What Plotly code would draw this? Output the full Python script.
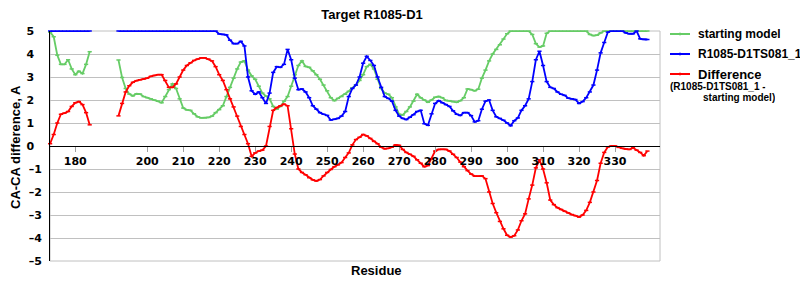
import plotly.graph_objects as go

N = None
residues = list(range(173, 340))

starting_model = [
    4.95, 4.75, 3.95, 3.55, 3.55, 3.75, 3.35, 3.1, 3.25, 3.15, 3.55, 4.1,
    N, N, N, N, N, N, N,
    3.74, 2.98, 2.5, 2.26, 2.18, 2.27, 2.26, 2.15,
    2.1, 2.05, 2.0, 1.95, 1.88, 2.15, 2.45, 2.7, 2.5, 2.05,
    1.65, 1.57, 1.55, 1.4, 1.27, 1.22, 1.22, 1.24, 1.3, 1.45,
    1.58, 1.75, 2.15, 2.55, 2.95, 3.35, 3.65, 3.7, 3.3, 3.05,
    2.9, 2.6, 2.3, 2.17, 2.05, 1.72, 1.6, 1.72, 1.95, 2.15,
    2.6, 3.1, 3.5, 3.7, 3.46, 3.42, 3.27, 3.1, 2.9, 2.65,
    2.4, 2.1, 1.97, 2.07, 2.15, 2.25, 2.38, 2.53, 2.65, 2.85,
    3.1, 3.45, 3.55, 3.35, 2.9, 2.5, 2.3, 2.25, 2.1, 1.7,
    1.38, 1.35, 1.5, 1.7, 1.95, 2.25, 2.1, 2.0, 1.9, 2.0,
    2.12, 2.15, 2.1, 1.98, 1.97, 1.93, 1.9, 1.97, 2.1, 2.48,
    2.45, 2.4, 2.47, 2.95, 3.3, 3.7, 4.0, 4.2, 4.4, 4.65,
    4.88, 5.0, 5.0, 5.0, 5.0, 5.0, 5.0, 4.85, 4.45, 4.3,
    4.35, 4.9, 5.0, 5.0, 5.0, 5.0, 5.0, 5.0, 5.0, 5.0,
    5.0, 5.0, 5.0, 4.85, 4.8, 4.82, 4.92, 5.0, 5.0, 5.0,
    5.0, 5.0, 5.0, 5.0, 5.0, 5.0, 5.0, 5.0, 5.0, 5.0,
]

model_ts081 = [
    5.0, 5.0, 5.0, 5.0, 5.0, 5.0, 5.0, 5.0, 5.0, 5.0, 5.0, 5.0,
    N, N, N, N, N, N, N,
    5.0, 5.0, 5.0, 5.0, 5.0, 5.0, 5.0, 5.0,
    5.0, 5.0, 5.0, 5.0, 5.0, 5.0, 5.0, 5.0, 5.0, 5.0,
    5.0, 5.0, 5.0, 5.0, 5.0, 5.0, 5.0, 5.0, 5.0, 5.0,
    4.87, 4.85, 4.83, 4.6, 4.45, 4.45, 4.55, 4.35, 3.0, 2.4,
    2.25, 2.35, 2.1, 1.85, 2.3, 3.2, 3.45, 3.42, 3.55, 4.2,
    3.75, 2.95, 2.45, 2.48, 2.35, 2.1, 1.75, 1.6, 1.45, 1.38,
    1.33, 1.13, 1.16, 1.2, 1.3, 1.5, 2.15, 2.5, 2.65, 3.0,
    3.6, 3.9, 3.72, 3.5, 3.0, 2.55, 2.15, 2.07, 1.95, 1.55,
    1.3, 1.2, 1.15, 1.25, 1.36, 1.5, 1.55, 0.97, 0.9, 1.4,
    1.85, 1.97, 1.88, 1.8, 1.72, 1.53, 1.38, 1.33, 1.45, 1.45,
    1.32, 1.05, 1.1, 1.6, 1.95, 2.0, 1.55, 1.27, 1.2, 1.12,
    1.0, 0.88, 1.1, 1.22, 1.55, 1.75, 2.05, 2.8, 3.75, 4.12,
    3.5, 2.8, 2.55, 2.5, 2.35, 2.25, 2.2, 2.08, 2.05, 2.02,
    1.85, 1.93, 2.1, 2.35, 2.65, 3.3, 4.05, 4.5, 4.95, 5.0,
    5.0, 5.0, 5.0, 4.92, 4.88, 4.88, 5.0, 4.66, 4.63, 4.63,
]

difference = [
    0.1, 0.5, 1.0, 1.38, 1.43, 1.5, 1.72, 1.88, 1.93, 1.8, 1.45, 0.92,
    N, N, N, N, N, N, N,
    1.31, 1.85, 2.35, 2.62, 2.77, 2.84, 2.88, 2.91,
    2.95, 3.03, 3.07, 3.1, 3.1, 2.85, 2.55, 2.55, 2.7, 3.0,
    3.3, 3.5, 3.62, 3.72, 3.78, 3.83, 3.83, 3.78, 3.7, 3.45,
    3.1, 2.85, 2.45, 2.05, 1.7, 1.3, 0.85, 0.5, 0.1, -0.45,
    -0.3, -0.22, -0.18, 0.0, 0.85, 1.55, 1.67, 1.75, 1.82, 1.75,
    0.75, -0.35, -1.0, -1.15, -1.25, -1.38, -1.47, -1.52, -1.46, -1.3,
    -1.15, -1.02, -0.9, -0.82, -0.72, -0.5, -0.3, 0.05, 0.28, 0.38,
    0.5, 0.44, 0.33, 0.2, 0.1, -0.05, -0.12, -0.1, -0.05, 0.05,
    0.03, -0.15, -0.28, -0.36, -0.45, -0.6, -0.75, -0.9, -0.85, -0.55,
    -0.22, -0.15, -0.14, -0.15, -0.22, -0.36, -0.5, -0.7, -0.9, -1.07,
    -1.22, -1.31, -1.31, -1.3, -1.42, -2.0, -2.5, -2.9, -3.28, -3.6,
    -3.88, -3.96, -3.9, -3.65, -3.25, -2.95, -2.3, -1.7, -0.95, -0.6,
    -1.0, -1.6, -2.35, -2.55, -2.68, -2.76, -2.84, -2.91, -2.98, -3.03,
    -3.09, -3.0, -2.8, -2.45, -2.0, -1.5, -0.75, -0.28, -0.04, 0.0,
    0.0, -0.06, -0.1, -0.13, -0.15, -0.08, -0.18, -0.28, -0.42, -0.22,
]

x_tick_vals = [180, 200, 210, 220, 230, 240, 250, 260, 270, 280, 290, 300, 310, 320, 330]
y_tick_vals = [-5, -4, -3, -2, -1, 0, 1, 2, 3, 4, 5]
y_tick_text = [("\u2013" + str(-v)) if v < 0 else (str(v) + "\u2007") for v in y_tick_vals]

GREEN = "#66cc66"
BLUE = "#0000ff"
RED = "#ff0000"

series = [
    ("starting model", starting_model, GREEN),
    ("R1085-D1TS081_1", model_ts081, BLUE),
    ("Difference", difference, RED),
]

fig = go.Figure()
for name, vals, col in series:
    fig.add_trace(go.Scatter(
        x=residues, y=vals, name=name, mode="lines+markers",
        line=dict(color=col, width=1.8),
        marker=dict(symbol="line-ew", size=3, line=dict(color=col, width=1.5)),
        connectgaps=False, cliponaxis=False, showlegend=False,
    ))

W, H = 800, 300
ML, MR, MT, MB = 50, 140, 31, 39
PW, PH = W - ML - MR, H - MT - MB


def px_x(x):
    return (x - ML) / PW


def px_y(y):
    return (H - MB - y) / PH


shapes = [dict(type="rect", xref="paper", yref="paper", x0=0, x1=1, y0=0, y1=1,
               line=dict(color="#c0c0c0", width=1), layer="below")]
annotations = []

# legend (drawn by hand so the two-line note sits as in the original)
leg = [(34, GREEN, "starting model", 12, 16), (54, BLUE, "R1085-D1TS081_1", 12, 16), (74, RED, "Difference", 13, 13)]
for ypx, col, txt, fs, hh in leg:
    shapes.append(dict(type="line", xref="paper", yref="paper", x0=px_x(670), x1=px_x(690),
                       y0=px_y(ypx), y1=px_y(ypx), line=dict(color=col, width=2)))
    shapes.append(dict(type="line", xref="paper", yref="paper", x0=px_x(680), x1=px_x(680),
                       y0=px_y(ypx - 1.5), y1=px_y(ypx + 1.5), line=dict(color=col, width=1)))
    annotations.append(dict(xref="paper", yref="paper", x=px_x(697), y=px_y(ypx), text="<b>" + txt + "</b>",
                            showarrow=False, xanchor="left", yanchor="middle", height=hh, borderpad=0,
                            font=dict(family="Liberation Sans", size=fs, color="black")))
annotations.append(dict(xref="paper", yref="paper", x=px_x(669), y=px_y(86.5), text="<b>(R1085-D1TS081_1 -</b>",
                        showarrow=False, xanchor="left", yanchor="middle", height=11, borderpad=0,
                        font=dict(family="Liberation Sans", size=10, color="black")))
annotations.append(dict(xref="paper", yref="paper", x=px_x(702), y=px_y(97.5), text="<b>starting model)</b>",
                        showarrow=False, xanchor="left", yanchor="middle", height=11, borderpad=0,
                        font=dict(family="Liberation Sans", size=10, color="black")))
# axis titles
annotations.append(dict(xref="paper", yref="paper", x=px_x(376), y=px_y(270), text="<b>Residue</b>",
                        showarrow=False, xanchor="center", yanchor="middle",
                        font=dict(family="Liberation Sans", size=13, color="black")))
annotations.append(dict(xref="paper", yref="paper", x=px_x(15), y=px_y(147), text="<b>CA-CA difference, A</b>",
                        showarrow=False, xanchor="center", yanchor="middle", textangle=-90,
                        font=dict(family="Liberation Sans", size=13, color="black")))

fig.update_layout(
    width=W, height=H,
    margin=dict(l=ML, r=MR, t=MT, b=MB, pad=0),
    paper_bgcolor="white", plot_bgcolor="white",
    title=dict(text="<b>Target R1085-D1</b>", xref="container", yref="container",
               x=372 / W, y=1 - 14 / H, xanchor="center", yanchor="middle",
               font=dict(family="Liberation Sans", size=13, color="black")),
    xaxis=dict(range=[172.97, 342.5], anchor="free", position=0.5,
               showline=True, linecolor="black", linewidth=1,
               showgrid=False, zeroline=False,
               tickmode="array", tickvals=x_tick_vals,
               ticks="outside", ticklen=5, tickcolor="#a0a0a0", tickwidth=1,
               tickfont=dict(family="DejaVu Sans", size=11, color="black", weight="bold")),
    yaxis=dict(range=[-5, 5], showline=True, linecolor="black", linewidth=1,
               showgrid=True, gridcolor="#c0c0c0", gridwidth=1, zeroline=False,
               tickmode="array", tickvals=y_tick_vals, ticktext=y_tick_text,
               ticks="", ticklabelstandoff=5,
               tickfont=dict(family="DejaVu Sans", size=11, color="black", weight="bold")),
    shapes=shapes, annotations=annotations,
)

fig.write_html("out.html")
